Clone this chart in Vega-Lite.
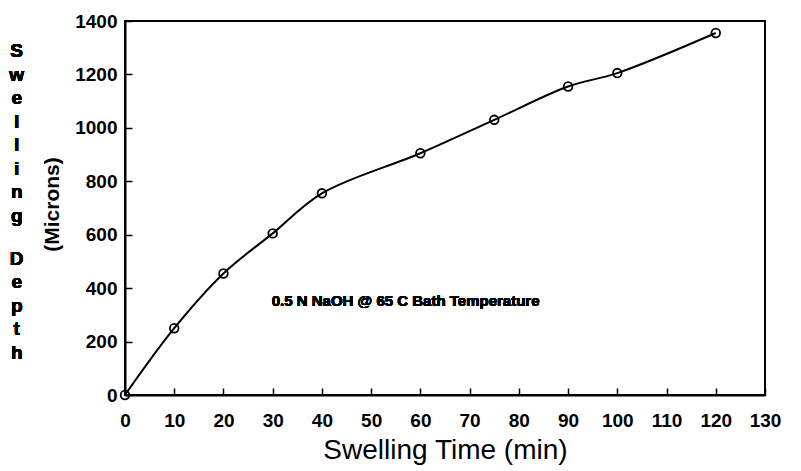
{
  "$schema": "https://vega.github.io/schema/vega-lite/v6.json",
  "width": 640,
  "height": 374,
  "autosize": {"type": "none"},
  "padding": {"left": 125, "top": 21, "right": 36, "bottom": 76},
  "background": "white",
  "config": {
    "font": "Liberation Sans",
    "view": {"stroke": "black", "strokeWidth": 2},
    "axis": {"grid": false, "zindex": 1, "labelFlush": false, "labelOverlap": false, "domainColor": "black", "domainWidth": 2, "tickColor": "black", "tickWidth": 1.5, "labelColor": "black", "titleColor": "black"}
  },
  "data": {
    "values": [
      {"t": 0, "d": 0},
      {"t": 10, "d": 250},
      {"t": 20, "d": 455},
      {"t": 30, "d": 605},
      {"t": 40, "d": 755},
      {"t": 60, "d": 905},
      {"t": 75, "d": 1030},
      {"t": 90, "d": 1155},
      {"t": 100, "d": 1205},
      {"t": 120, "d": 1355}
    ]
  },
  "encoding": {
    "x": {
      "field": "t", "type": "quantitative",
      "scale": {"domain": [0, 130], "nice": false},
      "axis": {"values": [0,10,20,30,40,50,60,70,80,90,100,110,120,130], "format": "d", "tickSize": -7, "labelPadding": 23, "labelFontSize": 19, "labelFontWeight": "bold", "title": "Swelling Time (min)", "titleFontSize": 28, "titleFontWeight": "normal", "titlePadding": 6}
    },
    "y": {
      "field": "d", "type": "quantitative",
      "scale": {"domain": [0, 1400], "nice": false},
      "axis": {"values": [0,200,400,600,800,1000,1200,1400], "format": "d", "tickSize": -7, "labelPadding": 15, "labelFontSize": 19, "labelFontWeight": "bold", "title": "(Microns)", "titleFontSize": 21, "titleFontWeight": "bold", "titleX": -73, "titleY": 183, "titleBaseline": "middle"}
    }
  },
  "layer": [
    {"mark": {"type": "line", "interpolate": "catmull-rom", "color": "black", "strokeWidth": 2}},
    {"mark": {"type": "point", "shape": "circle", "filled": false, "color": "black", "size": 75, "strokeWidth": 1.8, "opacity": 1}},
    {
      "mark": {"type": "text", "fontSize": 15, "fontWeight": "bold", "color": "black", "align": "center", "baseline": "middle"},
      "encoding": {
        "x": {"datum": 57},
        "y": {"datum": 352},
        "text": {"value": "0.5 N NaOH @ 65 C Bath Temperature"}
      }
    },
    {
      "mark": {"type": "text", "fontSize": 19, "fontWeight": "bold", "color": "black", "align": "center", "baseline": "alphabetic", "lineHeight": 23.5, "clip": false},
      "encoding": {
        "x": {"datum": -22},
        "y": {"datum": 1265},
        "text": {"value": ["S", "w", "e", "l", "l", "i", "n", "g"]}
      }
    },
    {
      "mark": {"type": "text", "fontSize": 19, "fontWeight": "bold", "color": "black", "align": "center", "baseline": "alphabetic", "lineHeight": 23.5, "clip": false},
      "encoding": {
        "x": {"datum": -22},
        "y": {"datum": 487},
        "text": {"value": ["D", "e", "p", "t", "h"]}
      }
    }
  ]
}
